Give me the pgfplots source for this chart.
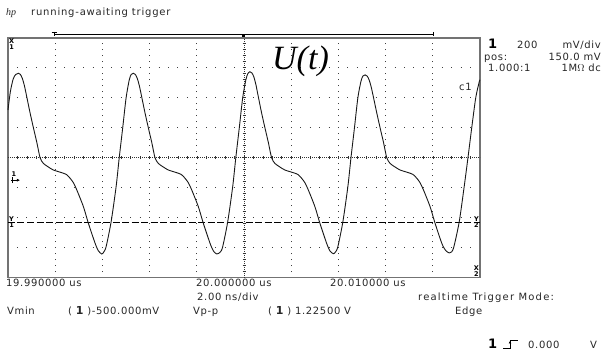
\documentclass[border=0pt]{standalone}
\usepackage{pgfplots}
\pgfplotsset{compat=1.18}
\usepackage{fontspec}
\setmainfont{DejaVu Sans}
\newfontfamily\scopefont[LetterSpace=6.5]{DejaVu Sans}
\newfontfamily\headfont[LetterSpace=8]{DejaVu Sans}
\newfontfamily\wideft[LetterSpace=12]{DejaVu Sans}
\newfontfamily\bigserif{Liberation Serif}
\usetikzlibrary{arrows.meta}
\tikzset{
  st/.style={inner sep=0pt, anchor=base west, font=\fontsize{10}{10}\scopefont, text=black!85},
  ste/.style={st, anchor=base east},
  mk/.style={inner sep=0pt, font=\fontsize{6.5}{5.5}\selectfont\bfseries, text=black, align=center},
}
\begin{document}
\begin{tikzpicture}
\begin{axis}[
  at={(8pt,80.3pt)}, anchor=south west,
  width=472pt, height=240pt, scale only axis,
  xmin=-10, xmax=10, ymin=-650, ymax=950,
  xtick={-10,-8,...,10}, ytick={-650,-450,...,950},
  xticklabels={}, yticklabels={},
  major tick length=0pt,
  grid=major,
  x grid style={black!75, line width=0.9pt, dash pattern=on 0.9pt off 5.1pt, dash phase=0.45pt},
  y grid style={black!75, line width=0.9pt, dash pattern=on 0.9pt off 8.54pt, dash phase=0.45pt},
  axis line style={draw=black!55, line width=1.6pt},
  clip=false,
]
% centre lines
\draw[black!80, line width=0.7pt, dash pattern=on 0.7pt off 1.3pt] (axis cs:0,-650) -- (axis cs:0,950);
\draw[black!80, line width=0.7pt, dash pattern=on 0.7pt off 1.3pt] (axis cs:-10,150) -- (axis cs:10,150);
\pgfplotsinvokeforeach{-610,-570,...,910}{\draw[black!80, line width=0.6pt] ([xshift=-1.5pt]axis cs:0,#1) -- ([xshift=1.5pt]axis cs:0,#1);}
\pgfplotsinvokeforeach{-9.6,-9.2,...,9.7}{\draw[black!80, line width=0.6pt] ([yshift=-1.5pt]axis cs:#1,150) -- ([yshift=1.5pt]axis cs:#1,150);}
% Y cursor line
\draw[black, line width=0.9pt, dash pattern=on 7pt off 2.5pt] (axis cs:-10,-281) -- (axis cs:10,-281);
% waveform
\addplot[black!90, line width=0.9pt, smooth, tension=0.45] coordinates {
(-10.00,468) (-9.90,590) (-9.78,675) (-9.67,705)
(-9.560,713) (-9.475,705) (-9.391,678) (-9.306,631) (-9.221,568) (-9.073,455) (-8.924,350) (-8.776,250) (-8.641,150) (-8.501,112) (-8.289,88) (-8.077,68) (-7.721,50) (-7.526,38) (-7.369,13) (-7.229,-17) (-7.085,-65) (-6.806,-176) (-6.594,-287) (-6.310,-420) (-6.170,-471) (-6.026,-492)
(-5.944,-479) (-5.842,-443) (-5.630,-277) (-5.419,-43) (-5.287,150) (-5.139,350) (-4.995,550) (-4.863,668) (-4.779,705)
(-4.690,713) (-4.605,705) (-4.521,678) (-4.436,631) (-4.351,568) (-4.203,455) (-4.054,350) (-3.906,250) (-3.771,150) (-3.631,112) (-3.419,88) (-3.207,68) (-2.851,50) (-2.656,38) (-2.499,13) (-2.359,-17) (-2.215,-65) (-1.936,-176) (-1.724,-287) (-1.440,-420) (-1.300,-471) (-1.156,-492)
(-1.004,-479) (-0.902,-443) (-0.690,-277) (-0.479,-43) (-0.347,150) (-0.199,350) (-0.055,550) (0.077,668) (0.161,710)
(0.250,723) (0.335,715) (0.419,688) (0.504,638) (0.589,570) (0.737,455) (0.886,350) (1.034,250) (1.169,150) (1.309,112) (1.521,88) (1.733,68) (2.089,50) (2.284,38) (2.441,13) (2.581,-17) (2.725,-65) (3.004,-176) (3.216,-287) (3.500,-420) (3.640,-471) (3.784,-490)
(3.876,-479) (3.978,-443) (4.190,-277) (4.401,-43) (4.533,150) (4.681,350) (4.825,550) (4.957,660) (5.041,695)
(5.130,702) (5.215,695) (5.299,670) (5.384,625) (5.469,565) (5.617,455) (5.766,350) (5.914,250) (6.049,150) (6.189,112) (6.401,88) (6.613,68) (6.969,50) (7.164,38) (7.321,13) (7.461,-17) (7.605,-65) (7.884,-176) (8.096,-287) (8.380,-420) (8.540,-468) (8.700,-485)
(8.80,-478) (8.90,-440) (9.12,-277) (9.33,-43) (9.49,150) (9.65,350) (9.82,550) (9.97,657) (10.00,668)
};
% cursor / marker labels
\node[mk, anchor=north west] at ([xshift=1pt,yshift=-1pt]axis cs:-10,950) {X\\1};
\node[mk, anchor=west] at ([xshift=1pt]axis cs:-10,-281) {Y\\1};
\node[mk, anchor=east] at ([xshift=-1pt]axis cs:10,-281) {Y\\2};
\node[mk, anchor=south east] at ([xshift=-1pt,yshift=1pt]axis cs:10,-650) {X\\2};
% ground reference
\node[mk, anchor=south] at ([xshift=6pt,yshift=3pt]axis cs:-10,0) {1};
\draw[black, line width=0.7pt, -{Latex[length=3pt,width=3pt]}] ([xshift=3pt]axis cs:-10,0) -- ([xshift=12pt]axis cs:-10,0);
\draw[black, line width=0.6pt] ([xshift=4pt,yshift=-3pt]axis cs:-10,0) -- ([xshift=4pt,yshift=3pt]axis cs:-10,0);
\node[inner sep=0pt, anchor=base west, font=\fontsize{34}{34}\bigserif\itshape] at ([xshift=28pt]axis cs:0,735) {U(t)};
\node[st, anchor=base west] at ([xshift=-21pt]axis cs:10,601) {c1};
\end{axis}
% top time reference bar
\draw[black, line width=0.8pt] (54.3pt,323.5pt) -- (433pt,323.5pt);
\draw[black, line width=0.8pt] (51.5pt,326pt) -- (57pt,326pt);
\draw[black, line width=0.8pt] (54.3pt,326pt) -- (54.3pt,321.5pt);
\draw[black, line width=0.8pt] (433pt,326pt) -- (433pt,321.5pt);
\fill[black] (241.8pt,321pt) rectangle (244.8pt,324pt);
% header
\node[inner sep=0pt, anchor=base west, font=\fontsize{10}{10}\bigserif\itshape, text=black!85] at (6pt,342.2pt) {hp};
\node[inner sep=0pt, anchor=base west, font=\fontsize{10}{10}\headfont, text=black!85] at (31pt,342.2pt) {running-awaiting trigger};
% right panel
\node[inner sep=0pt, anchor=base west, font=\fontsize{13}{13}\selectfont\bfseries] at (488pt,309.7pt) {1};
\node[st] at (517pt,309.7pt) {200};
\node[ste] at (601pt,309.7pt) {mV/div};
\node[st] at (484pt,297.7pt) {pos:};
\node[ste] at (601pt,297.7pt) {150.0 mV};
\node[st] at (488pt,286.7pt) {1.000:1};
\node[ste] at (601pt,286.7pt) {1M$\Omega$ dc};
% bottom texts
\node[st] at (6pt,71.7pt) {19.990000 us};
\node[st] at (196pt,71.7pt) {20.000000 us};
\node[st] at (330pt,71.7pt) {20.010000 us};
\node[st] at (197pt,57.7pt) {2.00 ns/div};
\node[st, font=\fontsize{10}{10}\wideft] at (418pt,57.7pt) {realtime Trigger Mode:};
\node[st] at (7pt,43.7pt) {Vmin};
\node[st] at (68pt,43.7pt) {( {\fontsize{11}{11}\selectfont\bfseries 1} )-500.000mV};
\node[st] at (193pt,43.7pt) {Vp-p};
\node[st] at (268pt,43.7pt) {( {\fontsize{11}{11}\selectfont\bfseries 1} ) 1.22500 V};
\node[st] at (455pt,43.7pt) {Edge};
\node[inner sep=0pt, anchor=base west, font=\fontsize{13}{13}\selectfont\bfseries] at (488pt,9.7pt) {1};
\draw[black, line width=0.7pt] (503pt,10pt) -- (510pt,10pt) -- (510pt,18pt) -- (518pt,18pt);
\draw[black, line width=0.6pt, -{Latex[length=2.5pt,width=3pt]}] (510pt,10pt) -- (510pt,17pt);
\node[st] at (528pt,9.7pt) {0.000};
\node[st] at (590pt,9.7pt) {V};
\pgfresetboundingbox
\useasboundingbox (0,0) rectangle (603pt,358pt);
\end{tikzpicture}
\end{document}
